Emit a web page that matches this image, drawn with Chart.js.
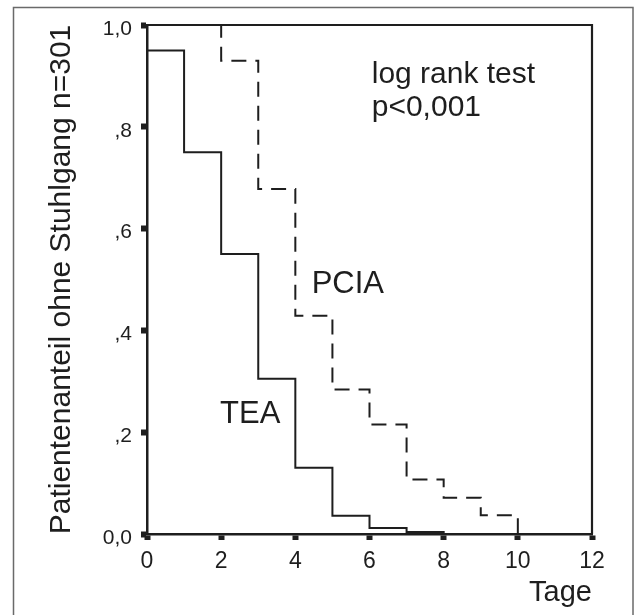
<!DOCTYPE html>
<html>
<head>
<meta charset="utf-8">
<script src="https://cdn.jsdelivr.net/npm/chart.js@4.4.0/dist/chart.umd.min.js"></script>
<style>
  body { margin: 0; background: #fff; }
  #wrap { width: 636px; height: 615px; }
</style>
</head>
<body>
<div id="wrap"><canvas id="kmChart" width="636" height="615"></canvas></div>
<script>
// Kaplan-Meier curves, values
const teaDays = [0, 1, 2, 3, 4, 5, 6, 7, 8];
const teaSurvival = [0.95, 0.75, 0.55, 0.305, 0.13, 0.036, 0.012, 0.004, 0];
const pciaDays = [0, 2, 3, 4, 5, 6, 7, 8, 9, 10];
const pciaSurvival = [1.0, 0.93, 0.678, 0.429, 0.284, 0.215, 0.107, 0.071, 0.037, 0];
const yTickLabels = ['0,0', ',2', ',4', ',6', ',8', '1,0'];
const yTickValues = [0, 0.2, 0.4, 0.6, 0.8, 1.0];

const FONT = '"Liberation Sans", Arial, sans-serif';
const INK = '#1e1e1e';

function toPoints(xs, ys) {
    return xs.map((x, i) => ({ x: x, y: ys[i] }));
}

// white page + thin grey outer frame
const pageFrame = {
    id: 'pageFrame',
    beforeDraw(chart) {
        const ctx = chart.ctx;
        ctx.save();
        ctx.fillStyle = '#fff';
        ctx.fillRect(0, 0, chart.width, chart.height);
        ctx.strokeStyle = '#6a6a6a';
        ctx.lineWidth = 1.5;
        ctx.strokeRect(13.5, 7.5, 619.5, 620);
        ctx.restore();
    }
};

// top and right border of plot box + text annotations
const boxAndNotes = {
    id: 'boxAndNotes',
    afterDatasetsDraw(chart) {
        const ctx = chart.ctx;
        const a = chart.chartArea;
        const xs = chart.scales.x, ys = chart.scales.y;
        ctx.save();
        ctx.strokeStyle = INK;
        ctx.lineWidth = 2.2;
        ctx.beginPath();
        ctx.moveTo(a.left, a.top);
        ctx.lineTo(a.right, a.top);
        ctx.lineTo(a.right, a.bottom);
        ctx.stroke();

        ctx.fillStyle = INK;
        ctx.textBaseline = 'alphabetic';
        ctx.textAlign = 'left';
        ctx.font = '30px ' + FONT;
        ctx.fillText('log rank test', xs.getPixelForValue(6.06), ys.getPixelForValue(0.886));
        ctx.fillText('p<0,001', xs.getPixelForValue(6.06), ys.getPixelForValue(0.821));
        ctx.font = '31px ' + FONT;
        ctx.fillText('PCIA', xs.getPixelForValue(4.44), ys.getPixelForValue(0.474));
        ctx.fillText('TEA', xs.getPixelForValue(1.97), ys.getPixelForValue(0.218));
        ctx.restore();
    }
};

const ctx = document.getElementById('kmChart').getContext('2d');
new Chart(ctx, {
    type: 'line',
    data: {
        datasets: [
            {
                label: 'TEA',
                data: toPoints(teaDays, teaSurvival),
                borderColor: INK,
                borderWidth: 2,
                pointRadius: 0,
                stepped: 'before',
                fill: false
            },
            {
                label: 'PCIA',
                data: toPoints(pciaDays, pciaSurvival),
                borderColor: INK,
                borderWidth: 2,
                borderDash: [15, 9],
                pointRadius: 0,
                stepped: 'before',
                fill: false
            }
        ]
    },
    options: {
        responsive: false,
        animation: false,
        layout: { padding: { left: 0, top: 25, right: 44, bottom: 0 } },
        plugins: {
            legend: { display: false },
            tooltip: { enabled: false }
        },
        scales: {
            x: {
                type: 'linear',
                min: 0,
                max: 12,
                afterFit: s => { s.height = 81; },
                ticks: {
                    stepSize: 2,
                    color: INK,
                    padding: 8,
                    font: { family: FONT, size: 23 }
                },
                grid: {
                    drawOnChartArea: false,
                    drawTicks: true,
                    tickLength: 6,
                    tickWidth: 6,
                    tickColor: INK
                },
                border: { color: INK, width: 2.5 },
                title: {
                    display: true,
                    text: 'Tage',
                    align: 'end',
                    color: INK,
                    font: { family: FONT, size: 29 },
                    padding: { top: 0, bottom: 5 }
                }
            },
            y: {
                type: 'linear',
                min: 0,
                max: 1,
                afterFit: s => { s.width = 147; },
                afterBuildTicks: s => { s.ticks = yTickValues.map(v => ({ value: v })); },
                ticks: {
                    color: INK,
                    padding: 9,
                    labelOffset: 4,
                    font: { family: FONT, size: 21 },
                    callback: (value) => yTickLabels[yTickValues.findIndex(v => Math.abs(v - value) < 1e-6)]
                },
                grid: {
                    drawOnChartArea: false,
                    drawTicks: true,
                    tickLength: 6,
                    tickWidth: 6,
                    tickColor: INK
                },
                border: { color: INK, width: 2.5 },
                title: {
                    display: true,
                    text: 'Patientenanteil ohne Stuhlgang n=301',
                    color: INK,
                    font: { family: FONT, size: 30 },
                    padding: { top: 44, bottom: 0 }
                }
            }
        }
    },
    plugins: [pageFrame, boxAndNotes]
});
</script>
</body>
</html>
